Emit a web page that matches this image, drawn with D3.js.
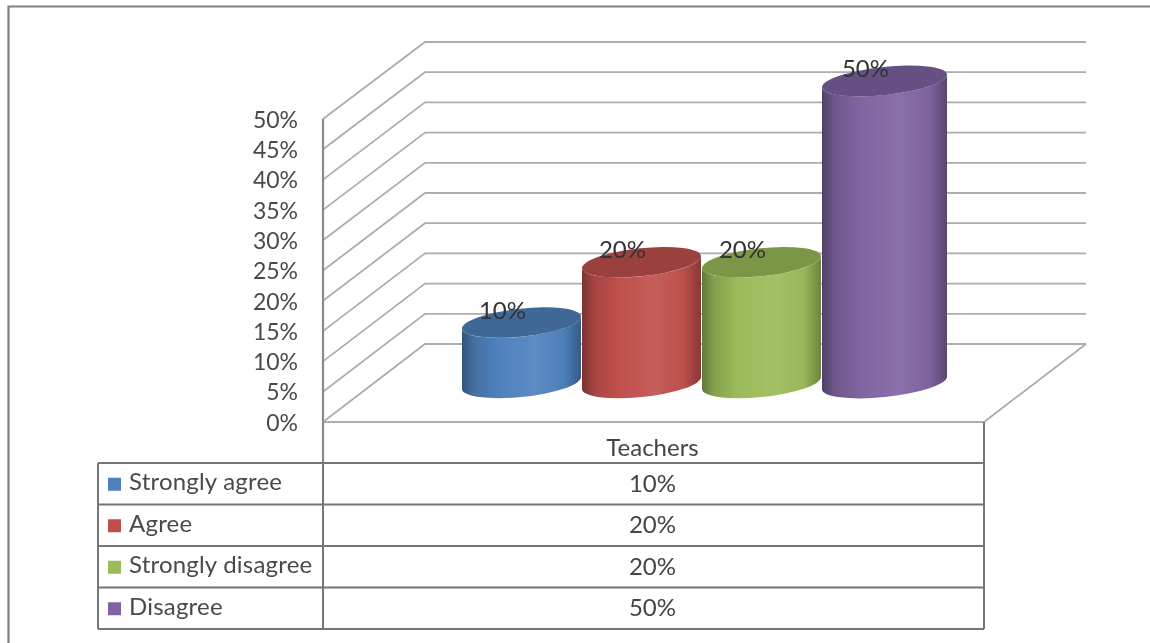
<!DOCTYPE html>
<html><head><meta charset="utf-8">
<style>html,body{margin:0;padding:0;background:#fff;overflow:hidden}svg{display:block}text{font-family:Lato,"Noto Sans",sans-serif}</style>
<script src="https://cdn.jsdelivr.net/npm/d3@7"></script></head><body>
<script>
const categories = ["Strongly agree","Agree","Strongly disagree","Disagree"];
const values = [10,20,20,50];
const columnLabel = "Teachers";
const yTicks = [0,5,10,15,20,25,30,35,40,45,50];
const seriesColors = ["#4f81bd","#c0504d","#9bbb59","#8064a2"];

const W=1150,H=643;
const svg=d3.select("body").append("svg").attr("width",W).attr("height",H);
const defs=svg.append("defs");
defs.append("filter").attr("id","soft").append("feGaussianBlur").attr("stdDeviation",0.55);
const root=svg.append("g").attr("filter","url(#soft)");

// frame (top and left edges only; the picture is cropped on the others)
root.append("path").attr("d","M8.5,643V6.5H1150").attr("fill","none").attr("stroke","#808080").attr("stroke-width",2.2);

// scales
const yFront=d3.scaleLinear().domain([0,50]).range([422,119]);
const yBack=d3.scaleLinear().domain([0,50]).range([344,42]);
const yBar=d3.scaleLinear().domain([0,50]).range([383,81]);
const x=d3.scaleBand().domain(categories).range([462,942]);
const xL=323,xB=425,xR=1086,xF=984;

// walls
const gridColor="#adadad";
const grid=root.append("g").attr("fill","none").attr("stroke",gridColor).attr("stroke-width",1.8);
grid.selectAll("path.g").data(yTicks).join("path").attr("class","g")
  .attr("d",t=>`M${xL},${yFront(t)}L${xB},${yBack(t)}H${xR}`);
grid.append("path").attr("d",`M${xR},${yBack(0)}L${xF},${yFront(0)}H${xL}`);
root.append("path").attr("d",`M${xL},${yFront(50)}V463`).attr("stroke","#8a8a8a").attr("stroke-width",2.2);

// y axis through d3.axisLeft, styled as bare labels
const yAxis=d3.axisLeft(yFront).tickValues(yTicks).tickSize(0).tickPadding(25).tickFormat(d=>d+"%");
const ax=root.append("g").attr("transform",`translate(${xL},0)`).call(yAxis);
ax.select(".domain").remove();
ax.selectAll("text").attr("font-size",23).attr("fill","#4a4a4a").style("font-family","Lato,'Noto Sans',sans-serif").attr("dy","0.36em");

// cylinders
const ry=14,tilt=-6*Math.PI/180;
function shade(c,k){return k>0?d3.interpolateRgb(c,"#fff")(k):d3.interpolateRgb(c,"#000")(-k);}
categories.forEach((c,i)=>{
  const g=defs.append("linearGradient").attr("id","g"+i);
  [[0,-0.36],[0.1,-0.14],[0.3,0],[0.62,0.08],[0.86,-0.02],[1,-0.3]].forEach(([o,k])=>
    g.append("stop").attr("offset",o).attr("stop-color",shade(seriesColors[i],k)));
});
const bars=root.append("g").selectAll("g").data(categories.map((c,i)=>({c,v:values[i],i}))).join("g");
bars.each(function(d){
  const rw=d.i===3?62.5:59.5;
  const cx=x(d.c)+rw;
  const s=Math.sin(tilt),co=Math.cos(tilt);
  const rx=Math.sqrt((rw*rw-ry*ry*s*s)/(co*co));
  const t=Math.atan(-(ry/rx)*Math.tan(tilt));
  const dy=rx*Math.cos(t)*s+ry*Math.sin(t)*co;
  const top=yBar(d.v),bot=yBar(0),deg=tilt*180/Math.PI;
  const sel=d3.select(this);
  sel.append("path")
    .attr("d",`M${cx-rw},${top-dy}L${cx-rw},${bot-dy}A${rx},${ry} ${deg} 0 0 ${cx+rw},${bot+dy}L${cx+rw},${top+dy}A${rx},${ry} ${deg} 0 1 ${cx-rw},${top-dy}Z`)
    .attr("fill",`url(#g${d.i})`);
  sel.append("ellipse").attr("cx",cx).attr("cy",top).attr("rx",rx).attr("ry",ry)
    .attr("transform",`rotate(${deg} ${cx} ${top})`)
    .attr("fill",shade(seriesColors[d.i],-0.2));
  sel.append("text").attr("x",cx-19).attr("y",top-4).attr("text-anchor","middle")
    .attr("font-size",24).attr("fill","#333").text(d.v+"%");
});

// data table
const tL=98,tM=323,tR=984,rowTop=d3.scaleBand().domain(categories).range([463,629]);
const tbl=root.append("g").attr("fill","none").attr("stroke","#757575").attr("stroke-width",2);
tbl.append("path").attr("d",`M${tM},463V629M${tR},422V629M${tL},463V629`);
tbl.selectAll("path.r").data(categories).join("path").attr("class","r")
  .attr("d",c=>`M${tL},${rowTop(c)}H${tR}`);
tbl.append("path").attr("d",`M${tL},629H${tR}`);
const cellX=(tM+tR)/2-1;
root.append("text").attr("x",cellX).attr("y",456).attr("text-anchor","middle").attr("font-size",24).attr("fill","#444").text(columnLabel);
const rows=root.append("g").selectAll("g").data(categories.map((c,i)=>({c,v:values[i],i}))).join("g")
  .attr("transform",d=>`translate(0,${rowTop(d.c)+rowTop.bandwidth()/2})`);
rows.append("rect").attr("x",108).attr("y",-6).attr("width",13).attr("height",13).attr("fill",d=>seriesColors[d.i]);
rows.append("text").attr("x",129).attr("y",6.5).attr("font-size",24).attr("letter-spacing",0.2).attr("fill","#4a4a4a").text(d=>d.c);
rows.append("text").attr("x",cellX).attr("y",8).attr("text-anchor","middle").attr("font-size",24).attr("fill","#444").text(d=>d.v+"%");
</script></body></html>
